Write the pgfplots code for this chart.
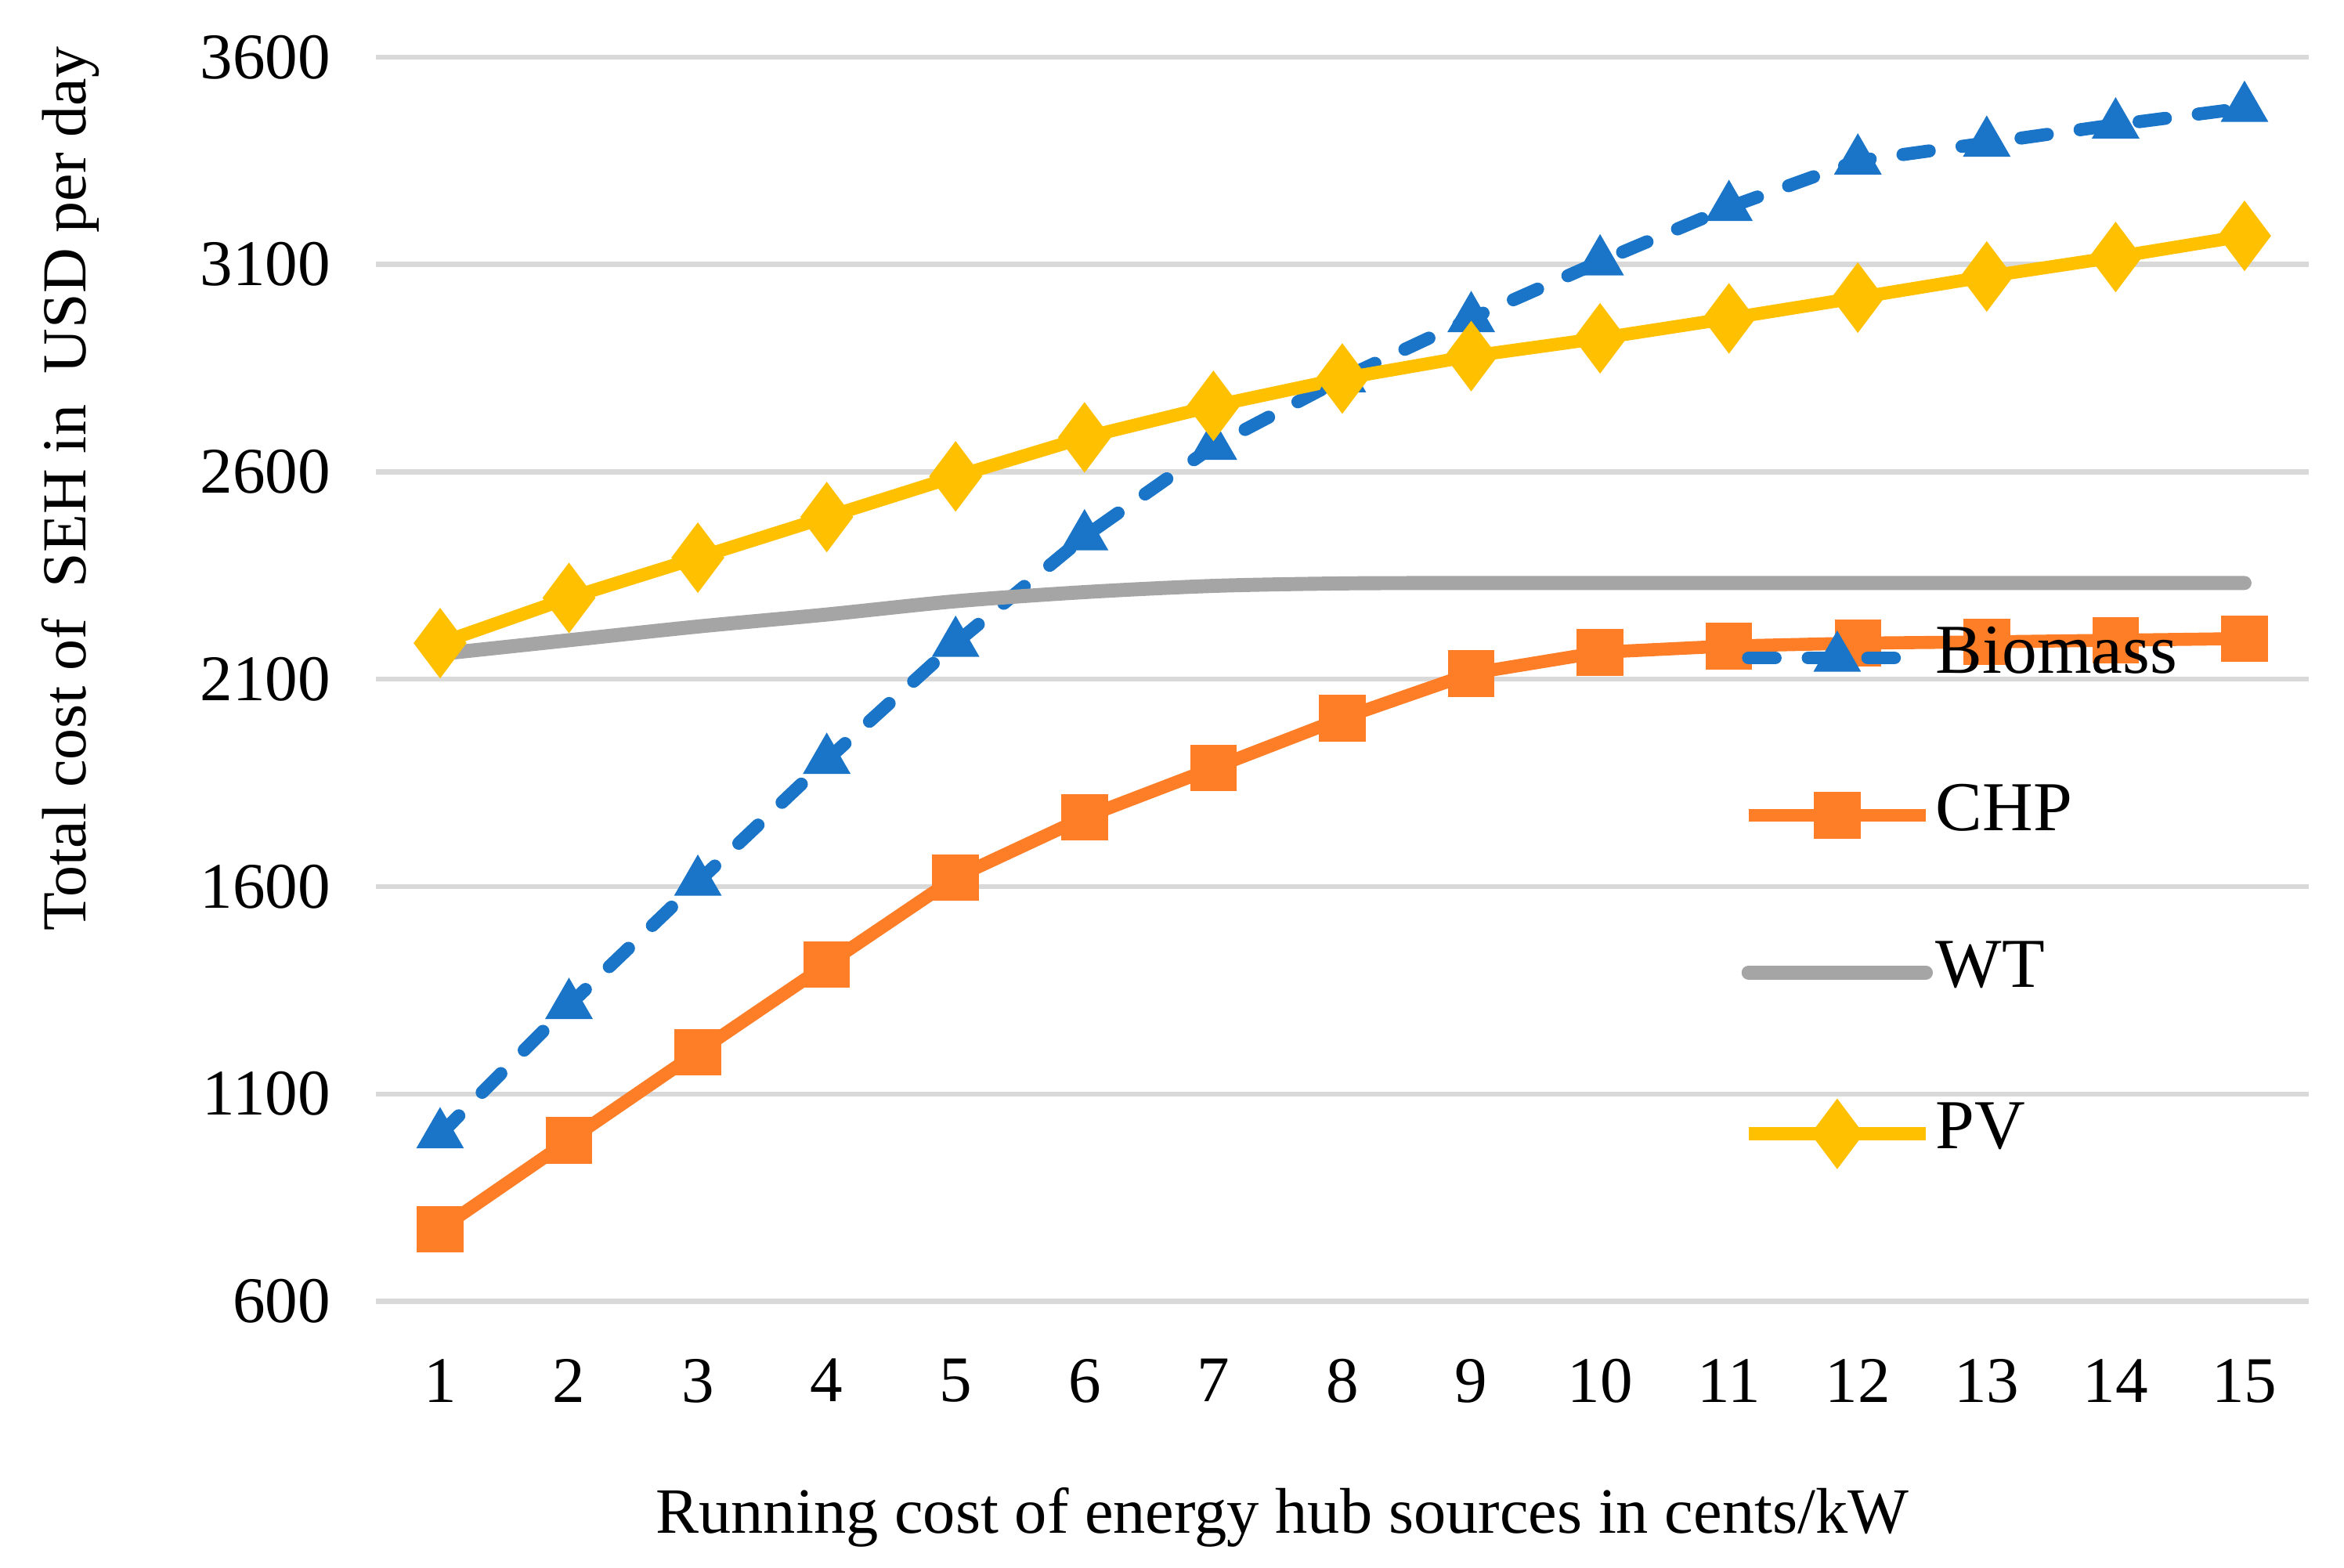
\documentclass[border=0pt]{standalone}
\usepackage{fontspec}
\setmainfont{Liberation Serif}
\usepackage{pgfplots}
\pgfplotsset{compat=1.18}
\definecolor{cBio}{HTML}{1A74C8}
\definecolor{cChp}{HTML}{FD7E27}
\definecolor{cWt}{HTML}{A5A5A5}
\definecolor{cPv}{HTML}{FFC000}
\definecolor{cGrid}{HTML}{D9D9D9}
\begin{document}
\begin{tikzpicture}
\pgfresetboundingbox
\path[use as bounding box] (-75pt,-53.1pt) rectangle (393pt,259.8pt);
\begin{axis}[
  scale only axis, width=386pt, height=248.4pt,
  xmin=0.5, xmax=15.5, ymin=600, ymax=3600,
  xtick={1,...,15}, ytick={600,1100,...,3600},
  axis line style={draw=none},
  tick style={draw=none},
  ymajorgrids=true,
  grid style={draw=cGrid, line width=1pt},
  /pgf/number format/assume math mode=true,
  /pgf/number format/1000 sep={},
  ticklabel style={font=\fontsize{13}{15}\selectfont},
  yticklabel style={xshift=-5.5pt},
  xticklabel style={yshift=-8pt},
  xlabel={Running cost of energy hub sources in cents/kW},
  ylabel={Total cost of \ SEH in \ USD per day},
  xlabel style={font=\fontsize{12.9}{14}\selectfont, at={(axis description cs:0.469,0)}, anchor=center, yshift=-43.2pt},
  ylabel style={font=\fontsize{12.5}{14}\selectfont, at={(axis description cs:-0.158,0.653)}, anchor=center},
  legend image code/.code={\draw[mark repeat=2, mark phase=2, #1] plot coordinates {(0pt,0pt) (17.7pt,0pt) (35.4pt,0pt)};},
  legend cell align=left,
  legend style={draw=none, fill=none, inner sep=0pt, at={(axis description cs:0.706,0.542)}, anchor=north west,
    font=\fontsize{14}{16}\selectfont, row sep=19.4pt,
    nodes={inner sep=0pt, text height=9pt, text depth=3pt},
    /tikz/every odd column/.append style={column sep=0.6pt}},
]
\addplot[cBio, line width=2.6pt, dash pattern=on 5.3pt off 6.6pt, line cap=round,
  mark=triangle*, mark size=5.2pt, mark options={solid, line width=0.3pt}] coordinates {
  (1,1002) (2,1314) (3,1611) (4,1905) (5,2187) (6,2444) (7,2662) (8,2825)
  (9,2970) (10,3107) (11,3238) (12,3350) (13,3393) (14,3437) (15,3477)};
\addlegendentry{Biomass}
\addplot[cChp, line width=2.6pt, mark=square*, mark size=4.5pt, mark options={solid, line width=0.3pt}] coordinates {
  (1,774) (2,988) (3,1201) (4,1412) (5,1622) (6,1767) (7,1886) (8,2006)
  (9,2114) (10,2165) (11,2180) (12,2187) (13,2190) (14,2194) (15,2198)};
\addlegendentry{CHP}
\addplot[cWt, line width=2.8pt, line cap=round, smooth] coordinates {
  (1,2161) (2,2194) (3,2227) (4,2256) (5,2288) (6,2310) (7,2325) (8,2331)
  (9,2332) (10,2332) (11,2332) (12,2332) (13,2332) (14,2332) (15,2332)};
\addlegendentry{WT}
\addplot[cPv, line width=2.6pt, mark=diamond*, mark size=6.8pt, mark options={solid, line width=0.3pt}] coordinates {
  (1,2187) (2,2296) (3,2393) (4,2491) (5,2589) (6,2683) (7,2759) (8,2825)
  (9,2879) (10,2922) (11,2970) (12,3020) (13,3071) (14,3118) (15,3169)};
\addlegendentry{PV}
\end{axis}
\end{tikzpicture}
\end{document}
